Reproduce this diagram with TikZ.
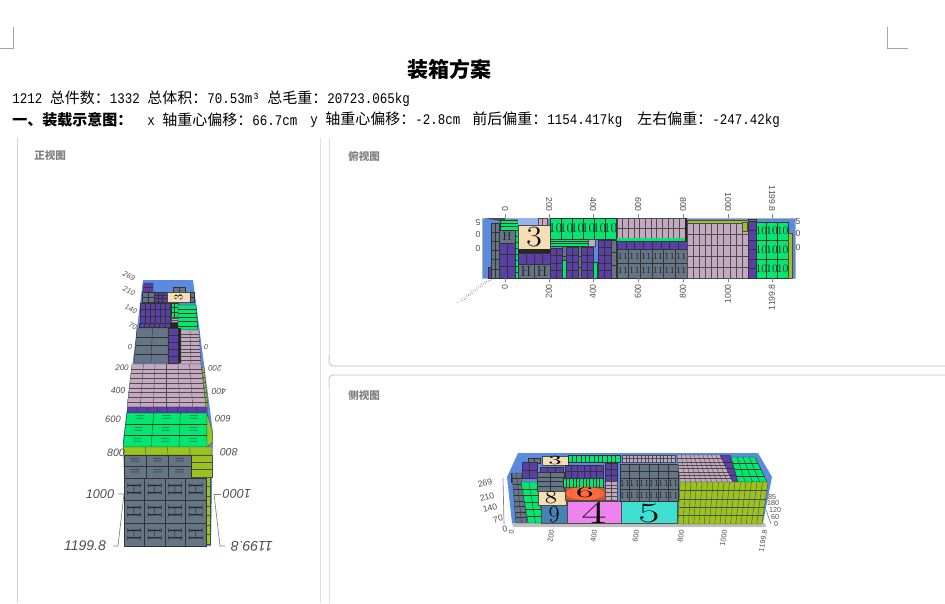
\documentclass[tikz,border=0pt]{standalone}
\usepackage{fontspec}
\usetikzlibrary{calc}
\newfontfamily\cjk{Noto Sans CJK SC}
\newfontfamily\mono[FakeStretch=0.85]{Liberation Mono}
\newfontfamily\axisfont{Liberation Sans}
\definecolor{boxblue}{HTML}{5B8BDE}
\definecolor{boxpurple}{HTML}{5A3FA6}
\definecolor{boxgreen}{HTML}{00E86F}
\definecolor{boxpink}{HTML}{C4A9C0}
\definecolor{boxgrey}{HTML}{667585}
\definecolor{boxolive}{HTML}{9AC31F}
\definecolor{boxtan}{HTML}{F5DEB3}
\definecolor{boxsteel}{HTML}{4682B4}
\definecolor{boxorange}{HTML}{FF6A3A}
\definecolor{boxviolet}{HTML}{EE82EE}
\definecolor{boxteal}{HTML}{40E0D0}
\newcommand{\zh}[1]{{\cjk\fontsize{11.25pt}{13pt}\selectfont #1}}
\newcommand{\mn}[1]{{\mono\fontsize{11.03pt}{13pt}\selectfont #1}}
\tikzset{
  pageline/.style={draw=black!12,line width=.6pt},
  leftline/.style={draw=black!18,line width=.7pt},
  cardline/.style={draw=black!25,line width=.6pt,rounded corners=3pt},
  cropline/.style={draw=black!35,line width=.5pt},
  axisline/.style={draw=black!50,line width=.5pt},
  paneltitle/.style={anchor=west,text=black!50,inner sep=0pt,font=\cjk\bfseries\fontsize{7.9pt}{9pt}\selectfont},
  textline/.style={anchor=west,inner sep=0pt},
  axistext/.style={inner sep=0pt,text=black!70,font=\axisfont\itshape\fontsize{#1}{#1}\selectfont},
  axistext/.default=7pt,
  plaintext/.style={inner sep=0pt,text=black!70,font=\axisfont\fontsize{#1}{#1}\selectfont},
  purplebox/.style={fill=boxpurple,draw=black!80,line width=.3pt},
  greenbox/.style={fill=boxgreen,draw=black!80,line width=.3pt},
  pinkbox/.style={fill=boxpink,draw=black!70,line width=.3pt},
  greybox/.style={fill=boxgrey,draw=black!80,line width=.3pt},
  olivebox/.style={fill=boxolive,draw=black!70,line width=.3pt},
  tanbox/.style={fill=boxtan,draw=black!70,line width=.3pt},
  bluebox/.style={fill=boxblue,draw=black!30,line width=.4pt},
  solidbox/.style={fill=#1,draw=black!70,line width=.3pt},
  cellmark/.style={inner sep=0pt,text=black!85,font=\fontsize{#1}{#1}\selectfont},
  cellmark/.default=6pt,
  bignum/.style={inner sep=0pt,text=black,transform shape,font=\fontsize{#1}{#1}\selectfont}
}
\newcommand{\packquad}[7]{%
  \coordinate (pa) at #2; \coordinate (pb) at #3; \coordinate (pc) at #4; \coordinate (pd) at #5;
  \draw[#1] (pa) -- (pb) -- (pc) -- (pd) -- cycle;
  \ifnum#6>1 \foreach \k in {2,...,#6}{\pgfmathsetmacro\fr{(\k-1)/#6}
    \draw[#1,fill=none] ($(pa)!\fr!(pb)$) -- ($(pd)!\fr!(pc)$);}\fi
  \ifnum#7>1 \foreach \k in {2,...,#7}{\pgfmathsetmacro\fr{(\k-1)/#7}
    \draw[#1,fill=none] ($(pa)!\fr!(pd)$) -- ($(pb)!\fr!(pc)$);}\fi}
\newcommand{\packrect}[7]{\packquad{#1}{(#2,#3)}{(#4,#3)}{(#4,#5)}{(#2,#5)}{#6}{#7}}
\newcommand{\markquad}[8]{%
  \coordinate (pa) at #3; \coordinate (pb) at #4; \coordinate (pc) at #5; \coordinate (pd) at #6;
  \foreach \u in {1,...,#7}{\foreach \v in {1,...,#8}{
    \pgfmathsetmacro\fu{(\u-.5)/#7}\pgfmathsetmacro\fv{(\v-.5)/#8}
    \node[#2] (m\u\v) at ($($(pa)!\fu!(pb)$)!\fv!($(pd)!\fu!(pc)$)$) {#1};}}}
\newcommand{\markrect}[8]{\markquad{#1}{#2}{(#3,#4)}{(#5,#4)}{(#5,#6)}{(#3,#6)}{#7}{#8}}
\begin{document}
\begin{tikzpicture}[x=.75pt,y=-.75pt]
\useasboundingbox (0,0) rectangle (945,603);
\draw[cropline] (13,27) -- (13,48) -- (0,48);
\draw[cropline] (887,27) -- (887,48) -- (908,48);
\draw[leftline] (17,138) -- (17,603);
\draw[pageline] (320,138) -- (320,603);
\draw[pageline] (329,138) -- (329,360);
\draw[cardline] (329,355) |- (945,366);
\draw[cardline] (945,375) -| (329,387);
\draw[pageline] (329,385) -- (329,603);
\node[inner sep=0pt] (title) at (449,69) {\cjk\bfseries\fontsize{15.75pt}{18pt}\selectfont 装箱方案};
\node[textline] (info) at (12,99) {\mn{1212 }\zh{总件数：}\mn{1332 }\zh{总体积：}\mn{70.53m³ }\zh{总毛重：}\mn{20723.065kg}};
\node[textline] (head) at (12,120) {\zh{\bfseries 一、装载示意图：}};
\node[textline] (xoff) at (147,120) {\mn{x }\zh{轴重心偏移：}\mn{66.7cm}};
\node[textline] (yoff) at (310,120) {\mn{y }\zh{轴重心偏移：}\mn{-2.8cm}};
\node[textline] (fbw) at (472,120) {\zh{前后偏重：}\mn{1154.417kg}};
\node[textline] (lrw) at (637,120) {\zh{左右偏重：}\mn{-247.42kg}};
\node[paneltitle] (front) at (34,156) {正视图};
\node[paneltitle] (top) at (348,156) {俯视图};
\node[paneltitle] (side) at (348,396) {侧视图};
% front view
\fill[boxblue] (143,280) -- (193,280) -- (213,433) -- (211,546) -- (126,546) -- (123,441) -- cycle;
\packquad{purplebox}{(144,283)}{(153,283)}{(153,292)}{(143,292)}{1}{2}
\packrect{greybox}{173}{287}{185}{292}{2}{1}
\packrect{purplebox}{154}{292}{167}{302}{3}{3}
\packrect{greybox}{142}{292}{154}{302}{2}{2}
\packrect{tanbox}{167}{292}{190}{302}{1}{1}
\node[bignum=9pt,rotate=90] (fthree) at (178.5,297) {3};
\packrect{greybox}{190}{292}{194}{302}{1}{2}
\packrect{purplebox}{140}{303}{170}{323}{6}{3}
\packrect{purplebox}{139}{323}{170}{327}{6}{1}
\fill[black!85] (170,323) rectangle (178,328);
\packrect{greenbox}{171}{303}{178}{317}{2}{3}
\packrect{pinkbox}{171}{317}{178}{322}{1}{3}
\packquad{greenbox}{(178,305)}{(196,305)}{(198,330)}{(178,330)}{1}{6}
\packquad{greybox}{(137,328)}{(168,328)}{(168,363)}{(134,363)}{2}{4}
\packrect{purplebox}{168}{328}{178}{363}{1}{5}
\fill[black!85] (178,328) rectangle (181,363);
\packquad{pinkbox}{(181,330)}{(199,330)}{(201,364)}{(181,364)}{2}{9}
\packquad{pinkbox}{(132,364)}{(201,364)}{(206,407)}{(127,407)}{6}{9}
\packquad{olivebox}{(202,367)}{(204,367)}{(208,407)}{(206,407)}{1}{8}
\packquad{purplebox}{(128,407)}{(207,407)}{(207,413)}{(127,413)}{8}{1}
\packquad{greenbox}{(127,413)}{(207,413)}{(207,447)}{(123,447)}{3}{3}
\markquad{=}{cellmark=9pt,text=black!75}{(127,413)}{(207,413)}{(207,447)}{(123,447)}{3}{3}
\packquad{olivebox}{(207,413)}{(212,430)}{(213,442)}{(207,447)}{1}{1}
\packquad{olivebox}{(123,447)}{(212,447)}{(212,455)}{(124,455)}{4}{1}
\packrect{olivebox}{191}{455}{212}{477}{1}{3}
\packrect{olivebox}{205}{477}{210}{544}{1}{7}
\packrect{greybox}{124}{455}{191}{478}{3}{2}
\markrect{=}{cellmark=10pt}{124}{455}{191}{478}{3}{2}
\packrect{greybox}{124}{478}{206}{546}{4}{3}
\markrect{H}{cellmark=15pt,rotate=90}{124}{478}{206}{546}{4}{3}
\draw[axisline] (118,494) -- (124,494) -- (118,546) -- (113,546);
\draw[axisline] (214,494) -- (221,494);
\draw[axisline] (214,494) -- (220,546) -- (225,546);
\foreach \lab/\px/\py/\fs [count=\i] in {269/129/276/5.5pt,210/129/291/5.5pt,140/131/309/5.5pt,70/133/326/5.5pt}
  \node[axistext=\fs,rotate=-25] (fa\i) at (\px,\py) {\lab};
\foreach \lab/\px/\py/\fs [count=\i] in {0/130/347/5.5pt,200/122/368/6pt,400/118/391/6.5pt,600/113/419/7pt,800/116/453/8pt,1000/100/494/9.5pt,1199.8/85/546/10.5pt}
  \node[axistext=\fs] (fl\i) at (\px,\py) {\lab};
\foreach \lab/\px/\py/\fs [count=\i] in {0/206/347/5.5pt,200/215/368/6pt,400/219/391/6.5pt,600/223/419/7pt,800/229/452/8pt,1000/237/494/9.5pt,1199.8/252/546/10.5pt}
  \node[axistext=\fs,rotate=180] (fr\i) at (\px,\py) {\lab};
% top view
\draw[bluebox] (482,218) rectangle (795,278);
\fill[black!70] (484,218) -- (505,218) -- (505,222) -- cycle;
\packrect{purplebox}{488}{267}{493}{278}{1}{1}
\packrect{greybox}{491}{223}{499}{278}{2}{6}
\packrect{greybox}{499}{230}{515}{243}{1}{1}
\markrect{H}{cellmark=9pt}{499}{230}{515}{243}{1}{1}
\packrect{purplebox}{499}{243}{515}{278}{2}{3}
\packrect{greenbox}{500}{220}{518}{230}{1}{3}
\packrect{greenbox}{515}{230}{518}{278}{1}{8}
\packrect{tanbox}{518}{225}{550}{249}{1}{1}
\node[bignum=22pt,xscale=1.15] (tthree) at (534,237) {3};
\fill[boxblue!65] (518,218) rectangle (538,225);
\packrect{pinkbox}{538}{218}{547}{225}{2}{1}
\fill[black!85] (518,249) rectangle (550,253);
\packrect{purplebox}{518}{253}{550}{264}{4}{1}
\packrect{greybox}{518}{264}{550}{278}{2}{1}
\markrect{H}{cellmark=11pt}{518}{264}{550}{278}{2}{1}
\packrect{greenbox}{550}{218}{616}{239}{6}{1}
\markrect{10}{cellmark=10pt}{550}{218}{616}{239}{6}{1}
\packrect{greenbox}{550}{239}{588}{246}{1}{3}
\packrect{pinkbox}{588}{239}{595}{246}{1}{1}
\packrect{greybox}{562}{246}{566}{278}{1}{3}
\packrect{greenbox}{562}{260}{566}{278}{1}{1}
\packrect{greybox}{578}{246}{581}{278}{1}{3}
\packrect{purplebox}{550}{248}{562}{278}{2}{4}
\packrect{purplebox}{566}{247}{578}{278}{2}{4}
\packrect{purplebox}{581}{247}{593}{278}{2}{4}
\packrect{greenbox}{593}{262}{597}{278}{1}{1}
\packrect{purplebox}{598}{240}{611}{278}{2}{5}
\packrect{greybox}{611}{240}{616}{278}{1}{3}
\packrect{pinkbox}{617}{218}{685}{238}{12}{2}
\fill[boxgreen] (617,238) rectangle (687,241);
\fill[black!85] (685,218) rectangle (687,241);
\packrect{purplebox}{617}{241}{687}{249}{8}{1}
\packrect{greybox}{617}{249}{687}{278}{6}{2}
\markrect{11}{cellmark=7pt}{617}{249}{687}{278}{6}{2}
\packrect{olivebox}{687}{220}{748}{223}{1}{1}
\packrect{pinkbox}{687}{223}{748}{278}{10}{5}
\packrect{olivebox}{742}{222}{747}{231}{1}{1}
\packrect{greybox}{748}{219}{756}{221}{1}{1}
\packrect{purplebox}{748}{221}{756}{278}{1}{6}
\packrect{greenbox}{756}{222}{788}{278}{3}{3}
\markrect{10}{cellmark=8.5pt}{756}{222}{788}{278}{3}{3}
\packrect{olivebox}{788}{233}{792}{278}{1}{1}
\foreach \lab/\px [count=\i] in {0/505,200/549,400/593,600/638,800/683,1000/728,1199.8/772}{
  \node[plaintext=6.5pt,rotate=-90,anchor=east] (tl\i) at (\px,212) {\lab};
  \node[plaintext=6.5pt,rotate=90,anchor=east] (bl\i) at (\px,284) {\lab};
  \coordinate (ta\i) at (\px,214);
  \coordinate (tb\i) at (\px,218);
  \coordinate (ba\i) at (\px,278);
  \coordinate (bb\i) at (\px,282);
  \draw[axisline] (ta\i) -- (tb\i);
  \draw[axisline] (ba\i) -- (bb\i);}
\foreach \lab/\py [count=\i] in {5/222,0/234,0/248}{
  \node[plaintext=6.5pt,rotate=180] (ll\i) at (478,\py) {\lab};
  \node[plaintext=6.5pt] (rl\i) at (798,\py) {\lab};}
\foreach \fx/\fy/\tx/\ty in {457/303/468/298,461/299/474/293,466/295/478/290,471/291/483/286,476/287/487/283,481/284/491/280,486/282/494/279}
  \draw[axisline,densely dotted] (\fx,\fy) -- (\tx,\ty);
% side view
\fill[boxblue] (518,453) -- (758,453) -- (772,477) -- (763,523) -- (512,523) -- (507,477) -- cycle;
\fill[black!25] (512,523) -- (765,523) -- (766,527) -- (513,527) -- cycle;
\packquad{purplebox}{(511,473)}{(515,473)}{(515,482)}{(511,482)}{1}{2}
\packquad{greybox}{(512,473)}{(521,473)}{(527,523)}{(516,523)}{2}{9}
\packquad{greenbox}{(521,482)}{(537,482)}{(543,523)}{(528,523)}{2}{6}
\packrect{greybox}{528}{458}{540}{463}{2}{1}
\packrect{purplebox}{522}{462}{537}{478}{2}{2}
\packrect{greybox}{537}{472}{564}{491}{2}{4}
\packrect{purplebox}{540}{467}{563}{472}{3}{1}
\draw[solidbox=boxtan] (542,456) rectangle (568,465);
\node[bignum=9.3pt,xscale=2.1] (sthree) at (555,460.5) {3};
\packrect{greenbox}{568}{455}{620}{462}{12}{1}
\packrect{greenbox}{563}{478}{603}{487}{12}{1}
\packrect{purplebox}{565}{465}{603}{478}{6}{2}
\packrect{purplebox}{605}{463}{617}{481}{2}{3}
\packrect{pinkbox}{605}{481}{617}{500}{2}{5}
\draw[solidbox=boxtan] (538,491) rectangle (566,505);
\node[bignum=13.5pt,xscale=1.4] (seight) at (551,497.5) {8};
\draw[solidbox=boxsteel] (541,505) rectangle (567,523);
\node[bignum=18pt] (snine) at (554,514.5) {9};
\draw[solidbox=boxorange!80!black] (565,487) rectangle (605,500);
\fill[boxorange] (585,493.5) ellipse (19 and 6.5);
\node[bignum=11.5pt,xscale=2.4] (ssix) at (585,493) {6};
\draw[solidbox=boxviolet] (567,501) rectangle (621,523);
\node[bignum=24pt,xscale=1.7] (sfour) at (594,513) {4};
\draw[solidbox=boxteal] (621,501) rectangle (677,523);
\node[bignum=21pt,xscale=1.65] (sfive) at (649,513) {5};
\packrect{pinkbox}{622}{455}{675}{462}{14}{2}
\packrect{greybox}{620}{464}{678}{478}{6}{2}
\packrect{greybox}{620}{478}{678}{501}{6}{2}
\markrect{11}{cellmark=7pt}{620}{478}{678}{501}{6}{2}
\packquad{pinkbox}{(677,455)}{(720,455)}{(733,482)}{(680,482)}{10}{8}
\packquad{purplebox}{(720,455)}{(730,455)}{(738,482)}{(733,482)}{1}{4}
\packquad{greenbox}{(731,457)}{(755,457)}{(767,482)}{(738,482)}{4}{4}
\packquad{olivebox}{(680,482)}{(768,482)}{(762,524)}{(678,524)}{16}{5}
\foreach \lab/\px/\py [count=\i] in {269/485/483,210/487/497,140/490/508,70/498/519,0/505/529}
  \node[plaintext=6.5pt,rotate=15] (sl\i) at (\px,\py) {\lab};
\draw[axisline] (503,478) -- (504,524);
\foreach \lab/\px [count=\i] in {0/512,200/552,400/595,600/637,800/682,1000/725,1199.8/765}
  \node[plaintext=5.5pt,rotate=80,anchor=east] (sb\i) at (\px,530) {\lab};
\foreach \lab/\px/\py [count=\i] in {0/776/524,60/775/517,120/775/510,180/773/503,85/772/497}
  \node[plaintext=5.4pt] (sr\i) at (\px,\py) {\lab};
\draw[axisline] (766,510) -- (771,524);
\end{tikzpicture}
\end{document}
